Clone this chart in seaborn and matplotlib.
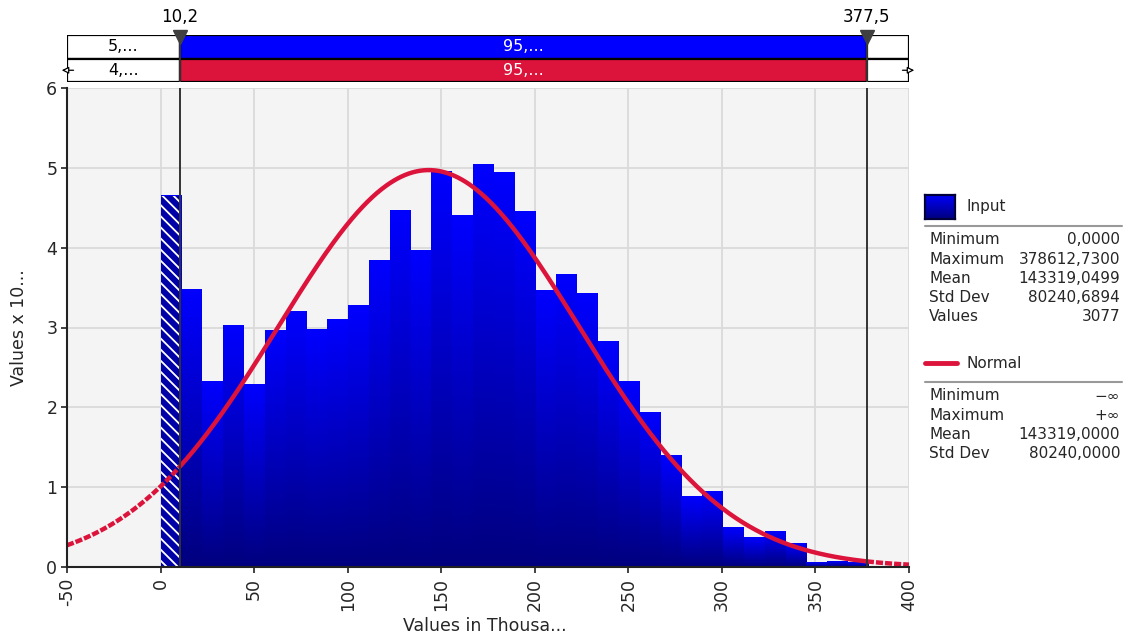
import numpy as np
import pandas as pd
import matplotlib
matplotlib.use("Agg")
import matplotlib.pyplot as plt
import seaborn as sns
from matplotlib.colors import LinearSegmentedColormap
from matplotlib.patches import Rectangle
from matplotlib.lines import Line2D

# ---- data (values in thousands, density x 10^-3) ----
data_min = 0.0
data_max = 378.61273
n_bins = 34
bar_heights = [4.65, 3.47, 2.32, 3.02, 2.28, 2.96, 3.20, 2.97, 3.10, 3.27,
               3.84, 4.47, 3.97, 4.96, 4.40, 5.04, 4.94, 4.45, 3.46, 3.67,
               3.42, 2.82, 2.32, 1.94, 1.40, 0.88, 0.94, 0.50, 0.37, 0.44,
               0.30, 0.06, 0.075, 0.055]
normal_mean = 143.319
normal_sd = 80.24
left_delim = 10.2
right_delim = 377.5
delim_labels = ["10,2", "377,5"]
input_pct = ["5,...", "95,...", ""]
normal_pct = ["4,...", "95,...", ""]
input_stats = [("Minimum", "0,0000"), ("Maximum", "378612,7300"),
               ("Mean", "143319,0499"), ("Std Dev", "80240,6894"),
               ("Values", "3077")]
normal_stats = [("Minimum", "\u2212\u221e"), ("Maximum", "+\u221e"),
                ("Mean", "143319,0000"), ("Std Dev", "80240,0000")]
x_ticks = list(range(-50, 401, 50))
y_ticks = list(range(0, 7))

BLUE = "#0000ff"
CRIMSON = "#dc143c"
W, H = 1125, 639

sns.set_style("whitegrid")
plt.rcParams["font.family"] = ["DejaVu Sans"]
plt.rcParams["hatch.linewidth"] = 1.3

fig = plt.figure(figsize=(W / 100, H / 100), dpi=100)


def fx(x):
    return x / W


def fy(y):
    return 1 - y / H


ax = fig.add_axes([fx(67), fy(567), fx(909) - fx(67), fy(88) - fy(567)])
band = fig.add_axes([fx(67), fy(82), fx(909) - fx(67), fy(35) - fy(82)])

ax.set_facecolor("#f4f4f4")

# ---- histogram ----
edges = np.linspace(data_min, data_max, n_bins + 1)
hist_df = pd.DataFrame({"value": (edges[:-1] + edges[1:]) / 2,
                        "density": bar_heights})
sns.histplot(data=hist_df, x="value", weights="density", bins=list(edges),
             stat="count", ax=ax, linewidth=0, color=BLUE, zorder=2)

grad_cmap = LinearSegmentedColormap.from_list("bar", ["#00007e", "#0000ff"])
grad = np.linspace(0, 1, 256).reshape(-1, 1)
for p in list(ax.patches):
    x0, w, h = p.get_x(), p.get_width(), p.get_height()
    p.set_facecolor("none")
    ax.imshow(grad, extent=[x0, x0 + w, 0, h], aspect="auto", origin="lower",
              cmap=grad_cmap, zorder=2, interpolation="bilinear")

# hatched part of the first bin (left of the lower delimiter)
ax.add_patch(Rectangle((data_min, 0), left_delim - data_min, bar_heights[0],
                       facecolor="#0000a8", edgecolor="white", hatch="\\\\\\",
                       linewidth=0, zorder=3))

# ---- fitted normal curve ----
xs = np.linspace(-50, 400, 900)
pdf = 1000 * np.exp(-0.5 * ((xs - normal_mean) / normal_sd) ** 2) / (normal_sd * np.sqrt(2 * np.pi))
inside = (xs >= left_delim) & (xs <= right_delim)
sns.lineplot(x=xs[inside], y=pdf[inside], ax=ax, color=CRIMSON, lw=3.2,
             zorder=5, sort=False)
for mask in (xs <= left_delim + 0.5, xs >= right_delim - 0.5):
    sns.lineplot(x=xs[mask], y=pdf[mask], ax=ax, color=CRIMSON, lw=3.2,
                 zorder=5, sort=False, linestyle=(0, (1.6, 0.45)))

# delimiter lines
for d in (left_delim, right_delim):
    ax.axvline(d, color="#333333", lw=1.4, zorder=6)

ax.set_xlim(-50, 400)
ax.set_ylim(0, 6)
ax.set_xticks(x_ticks)
ax.set_xticklabels([str(t) for t in x_ticks], rotation=90)
ax.set_yticks(y_ticks)
ax.grid(True, color="#dadada", lw=1.3, zorder=0)
ax.set_axisbelow(True)
for s in ("top", "right"):
    ax.spines[s].set_visible(False)
for s in ("left", "bottom"):
    ax.spines[s].set_color("#222222")
    ax.spines[s].set_linewidth(1.5)
    ax.spines[s].set_zorder(7)
ax.tick_params(axis="both", which="major", length=4, width=1.2, color="#222222",
               labelsize=12.5, pad=3, direction="out")
ax.tick_params(axis="x", pad=4)
ax.xaxis.set_tick_params(bottom=True)
ax.yaxis.set_tick_params(left=True)
ax.set_xlabel("Values in Thousa...", fontsize=12.5,
              family=["Liberation Sans Narrow", "DejaVu Sans"])
ax.set_ylabel("Values x 10...", fontsize=12.5,
              family=["Liberation Sans Narrow", "DejaVu Sans"])
ax.xaxis.set_label_coords(0.496, -0.104)
ax.yaxis.set_label_coords(-0.046, 0.5)

# ---- delimiter band ----
band.set_xlim(-50, 400)
band.set_ylim(0, 2)
band.axis("off")
seg_left = [-50, left_delim, right_delim]
seg_width = [left_delim + 50, right_delim - left_delim, 400 - right_delim]
band.barh([1.5] * 3, seg_width, left=seg_left, height=1.0,
          color=["white", BLUE, "white"], edgecolor="black", lw=1.6)
band.barh([0.5] * 3, seg_width, left=seg_left, height=1.0,
          color=["white", CRIMSON, "white"], edgecolor="black", lw=1.6)
for row_y, labels in ((1.5, input_pct), (0.5, normal_pct)):
    for i, lab in enumerate(labels):
        cx = seg_left[i] + seg_width[i] / 2
        band.text(cx, row_y, lab, ha="center", va="center", fontsize=11.5,
                  color="white" if i == 1 else "black")
band.annotate("", xy=(-52.8, 0.5), xytext=(-46.5, 0.5),
              arrowprops=dict(arrowstyle="-|>", fc="white", ec="black", lw=0.9,
                              mutation_scale=10, shrinkA=0, shrinkB=0),
              annotation_clip=False)
band.annotate("", xy=(402.8, 0.5), xytext=(396.5, 0.5),
              arrowprops=dict(arrowstyle="-|>", fc="white", ec="black", lw=0.9,
                              mutation_scale=10, shrinkA=0, shrinkB=0),
              annotation_clip=False)
for d, lab in zip((left_delim, right_delim), delim_labels):
    band.axvline(d, color="#333333", lw=1.4, zorder=4)
    band.plot([d], [1.93], marker="v", markersize=10, color="#404040",
              clip_on=False, zorder=6)
    band.text(d, 2.38, lab, ha="center", va="bottom", fontsize=12,
              color="black")

# ---- statistics legend ----
sq = fig.add_axes([fx(925), fy(219), fx(955) - fx(925), fy(195) - fy(219)])
sq.imshow(grad, aspect="auto", origin="lower", cmap=grad_cmap,
          extent=[0, 1, 0, 1])
sq.set_xticks([])
sq.set_yticks([])
for s in sq.spines.values():
    s.set_color("#00003a")
    s.set_linewidth(1.6)
fig.text(fx(967), fy(207), "Input", fontsize=11, va="center", ha="left")
fig.add_artist(Line2D([fx(925), fx(1122)], [fy(226), fy(226)],
                      color="#999999", lw=1.5))
for k, (name, val) in enumerate(input_stats):
    yy = fy(240 + 19.2 * k)
    fig.text(fx(929), yy, name, fontsize=11, va="center", ha="left")
    fig.text(fx(1120), yy, val, fontsize=11, va="center", ha="right")

fig.add_artist(Line2D([fx(925), fx(957)], [fy(363), fy(363)],
                      color=CRIMSON, lw=3.5))
fig.text(fx(967), fy(363), "Normal", fontsize=11, va="center", ha="left")
fig.add_artist(Line2D([fx(925), fx(1122)], [fy(382), fy(382)],
                      color="#999999", lw=1.5))
for k, (name, val) in enumerate(normal_stats):
    yy = fy(396 + 19.2 * k)
    fig.text(fx(929), yy, name, fontsize=11, va="center", ha="left")
    fig.text(fx(1120), yy, val, fontsize=11, va="center", ha="right")

fig.savefig("out.png", dpi=100)
